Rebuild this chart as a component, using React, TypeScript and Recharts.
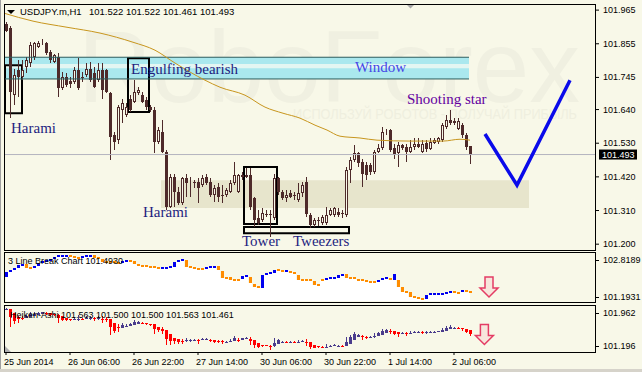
import React from 'react';
import { ComposedChart, Bar, Line, Area, XAxis, YAxis, ReferenceArea, ReferenceLine, ReferenceDot } from 'recharts';

const BG = '#F8F8E8';
const CANDLE = '#4E2A2A';
const FONT = "'Liberation Sans', Arial, sans-serif";
const SERIF = "'Liberation Serif', 'Times New Roman', serif";

// USDJPY H1 OHLC
const opens = [101.921,101.908,101.687,101.769,101.747,101.780,101.791,101.813,101.845,101.858,101.858,101.829,101.796,101.813,101.709,101.747,101.734,101.731,101.769,101.747,101.753,101.774,101.758,101.736,101.769,101.769,101.693,101.557,101.540,101.638,101.622,101.676,101.665,101.693,101.687,101.671,101.649,101.638,101.535,101.567,101.502,101.322,101.420,101.371,101.333,101.415,101.399,101.404,101.404,101.393,101.420,101.404,101.360,101.388,101.360,101.360,101.371,101.399,101.371,101.426,101.426,101.426,101.350,101.284,101.279,101.298,101.298,101.284,101.415,101.371,101.350,101.366,101.360,101.344,101.366,101.404,101.295,101.262,101.279,101.268,101.268,101.295,101.295,101.306,101.303,101.295,101.442,101.475,101.497,101.469,101.458,101.458,101.437,101.502,101.513,101.567,101.573,101.513,101.497,101.524,101.518,101.502,101.518,101.529,101.502,101.531,101.510,101.531,101.535,101.540,101.584,101.606,101.603,101.578,101.589,101.557,101.522];
const highs = [101.927,101.913,101.774,101.802,101.802,101.813,101.862,101.862,101.865,101.869,101.862,101.836,101.823,101.826,101.763,101.758,101.747,101.780,101.807,101.763,101.791,101.796,101.780,101.791,101.791,101.774,101.698,101.567,101.655,101.676,101.660,101.687,101.736,101.714,101.698,101.682,101.655,101.649,101.584,101.606,101.508,101.431,101.431,101.388,101.420,101.431,101.420,101.409,101.415,101.426,101.431,101.415,101.393,101.399,101.393,101.382,101.409,101.469,101.431,101.437,101.448,101.448,101.355,101.311,101.317,101.311,101.311,101.431,101.420,101.377,101.377,101.377,101.371,101.399,101.404,101.420,101.301,101.284,101.290,101.295,101.322,101.317,101.322,101.317,101.311,101.453,101.486,101.524,101.502,101.480,101.469,101.464,101.508,101.529,101.584,101.578,101.578,101.529,101.535,101.529,101.529,101.540,101.546,101.546,101.540,101.540,101.546,101.546,101.551,101.595,101.622,101.640,101.611,101.611,101.595,101.562,101.522];
const lows = [101.894,101.614,101.655,101.682,101.736,101.758,101.780,101.802,101.840,101.851,101.818,101.791,101.791,101.682,101.704,101.714,101.709,101.725,101.704,101.731,101.747,101.731,101.709,101.731,101.676,101.693,101.475,101.508,101.529,101.595,101.616,101.633,101.660,101.687,101.660,101.638,101.633,101.497,101.529,101.497,101.311,101.317,101.322,101.328,101.328,101.355,101.355,101.382,101.333,101.388,101.393,101.355,101.339,101.339,101.333,101.355,101.366,101.393,101.366,101.409,101.415,101.311,101.257,101.262,101.273,101.290,101.224,101.279,101.360,101.344,101.339,101.350,101.344,101.339,101.355,101.290,101.252,101.257,101.259,101.262,101.262,101.292,101.290,101.290,101.284,101.290,101.399,101.469,101.453,101.388,101.409,101.426,101.431,101.497,101.508,101.557,101.502,101.480,101.453,101.508,101.469,101.497,101.508,101.513,101.497,101.502,101.508,101.529,101.529,101.535,101.578,101.589,101.589,101.573,101.546,101.508,101.461];
const closes = [101.897,101.698,101.753,101.747,101.769,101.802,101.851,101.856,101.858,101.860,101.826,101.802,101.818,101.709,101.747,101.720,101.725,101.769,101.709,101.742,101.774,101.736,101.714,101.769,101.704,101.698,101.551,101.535,101.649,101.660,101.649,101.638,101.698,101.704,101.665,101.649,101.638,101.535,101.573,101.502,101.322,101.420,101.371,101.333,101.415,101.399,101.404,101.399,101.382,101.415,101.399,101.360,101.382,101.355,101.357,101.377,101.399,101.426,101.426,101.420,101.420,101.322,101.279,101.268,101.301,101.295,101.295,101.415,101.371,101.350,101.360,101.355,101.358,101.366,101.393,101.298,101.262,101.279,101.275,101.290,101.295,101.311,101.317,101.295,101.298,101.442,101.475,101.497,101.464,101.431,101.426,101.437,101.502,101.513,101.567,101.571,101.508,101.491,101.524,101.513,101.502,101.518,101.529,101.518,101.529,101.510,101.535,101.540,101.546,101.589,101.606,101.595,101.597,101.603,101.557,101.518,101.493];

// moving average (sampled along its path)
const maIdx = [-0.5,6.75,15.25,23.5,31.75,37.25,42.25,49.75,53.5,59.75,64.75,69.25,73.5,77.25,80.25,83.5,88.5,92.75,101,109.25,113.5,116];
const maVal = [101.955,101.929,101.909,101.890,101.860,101.834,101.792,101.736,101.713,101.687,101.648,101.628,101.612,101.589,101.573,101.553,101.547,101.540,101.537,101.537,101.543,101.540];

// forecast V line
const vIdx = [119.75, 127.75, 141];
const vVal = [101.560, 101.393, 101.736];

// 3 Line Break
const lbOpen = [102.023,102.196,102.266,102.335,102.438,102.473,102.335,102.335,102.404,102.508,102.542,102.611,102.646,102.715,102.750,102.750,102.784,102.715,102.681,102.681,102.715,102.750,102.784,102.681,102.646,102.542,102.542,102.542,102.508,102.508,102.577,102.611,102.577,102.473,102.438,102.404,102.404,102.369,102.335,102.300,102.335,102.335,102.369,102.542,102.611,102.611,102.369,102.335,102.300,102.300,102.300,102.335,102.369,102.404,102.231,101.989,102.023,101.920,101.920,101.954,102.058,102.023,101.781,101.678,101.643,102.093,102.162,102.162,102.266,102.231,102.196,102.196,102.162,102.093,101.920,101.920,101.920,101.885,101.747,101.920,101.920,101.989,101.989,101.989,102.093,102.127,101.989,101.989,101.920,101.920,101.885,101.851,101.851,101.851,101.920,101.954,101.954,101.920,101.920,101.678,101.505,101.505,101.332,101.298,101.263,101.263,101.401,101.436,101.436,101.436,101.436,101.505,101.505,101.470,101.505,101.539,101.539];
const lbClose = [102.196,102.266,102.335,102.438,102.473,102.335,102.335,102.404,102.508,102.542,102.611,102.646,102.715,102.750,102.750,102.784,102.715,102.681,102.681,102.715,102.750,102.784,102.681,102.646,102.542,102.542,102.542,102.508,102.508,102.577,102.611,102.577,102.473,102.438,102.404,102.404,102.369,102.335,102.300,102.335,102.335,102.369,102.542,102.611,102.646,102.369,102.335,102.300,102.300,102.300,102.335,102.369,102.404,102.266,101.989,101.989,101.920,101.920,101.920,102.058,102.058,101.816,101.678,101.643,102.093,102.162,102.162,102.266,102.231,102.231,102.266,102.162,102.162,101.920,101.920,101.920,101.885,101.747,101.747,101.920,101.989,101.989,101.989,102.093,102.093,101.989,101.989,101.989,101.920,101.920,101.885,101.851,101.851,101.920,101.954,101.989,101.920,102.127,101.678,101.505,101.505,101.332,101.332,101.263,101.263,101.401,101.436,101.436,101.436,101.436,101.505,101.505,101.470,101.470,101.574,101.505,101.493];

const timeTicks = [0, 16, 32, 48, 64, 80, 96, 112];
const timeLabels = ['25 Jun 2014', '26 Jun 06:00', '26 Jun 22:00', '27 Jun 14:00', '30 Jun 06:00', '30 Jun 22:00', '1 Jul 14:00', '2 Jul 06:00'];
const priceTicks = [101.2, 101.31, 101.42, 101.53, 101.64, 101.745, 101.855, 101.965];
const lbTicks = [101.1931, 102.8189];
const haTicks = [101.196, 101.962];
const lastPrice = 101.493;

const X_DOMAIN: [number, number] = [-0.5, 147.25];

const bars = opens.map((o, i) => ({ i, o, h: highs[i], l: lows[i], c: closes[i], range: [lows[i], highs[i]] }));
const maData = maIdx.map((i, k) => ({ i, v: maVal[k] }));
const vData = vIdx.map((i, k) => ({ i, v: vVal[k] }));

const haRows: any[] = [];
opens.forEach((o, i) => {
  const c = (o + highs[i] + lows[i] + closes[i]) / 4;
  const op = i === 0 ? (o + closes[i]) / 2 : (haRows[i - 1].o + haRows[i - 1].c) / 2;
  const h = Math.max(highs[i], op, c);
  const l = Math.min(lows[i], op, c);
  haRows.push({ i, o: op, c, h, l, range: [l, h] });
});

let prevUp = true;
const lbRows = lbOpen.map((o, i) => {
  const c = lbClose[i];
  const up = c > o ? true : c < o ? false : prevUp;
  prevUp = up;
  return { i, o, c, up, lo: Math.min(o, c), range: [Math.min(o, c), Math.max(o, c)] };
});

const CandleShape = (p: any) => {
  const { x, y, width, height, payload } = p;
  if (x == null || payload == null) return null;
  const cx = Math.round(x + width / 2);
  const top = Math.min(y, y + height);
  const H = Math.abs(height);
  const span = payload.h - payload.l;
  const k = span > 0 ? H / span : 0;
  const yO = top + (payload.h - payload.o) * k;
  const yC = top + (payload.h - payload.c) * k;
  const bTop = Math.round(Math.min(yO, yC));
  const bBot = Math.round(Math.max(yO, yC));
  const bull = payload.c > payload.o;
  return (
    <g>
      <line x1={cx + 0.5} x2={cx + 0.5} y1={Math.round(top)} y2={Math.round(top + H)} stroke={CANDLE} strokeWidth={1} />
      {bull ? (
        <rect x={cx - 0.5} y={bTop + 0.5} width={2} height={Math.max(bBot - bTop - 1, 0)} fill={BG} stroke={CANDLE} strokeWidth={1} />
      ) : (
        <rect x={cx - 1} y={bTop} width={3} height={Math.max(bBot - bTop, 1)} fill={CANDLE} />
      )}
    </g>
  );
};

const HAShape = (p: any) => {
  const { x, y, width, height, payload } = p;
  if (x == null || payload == null) return null;
  const cx = Math.round(x + width / 2);
  const top = Math.min(y, y + height);
  const H = Math.abs(height);
  const span = payload.h - payload.l;
  const k = span > 0 ? H / span : 0;
  const yO = top + (payload.h - payload.o) * k;
  const yC = top + (payload.h - payload.c) * k;
  const bTop = Math.round(Math.min(yO, yC));
  const bBot = Math.round(Math.max(yO, yC));
  const col = payload.c > payload.o ? '#4A3C8C' : '#FF0000';
  return (
    <g>
      <line x1={cx + 0.5} x2={cx + 0.5} y1={Math.round(top)} y2={Math.round(top + H)} stroke={col} strokeWidth={1} />
      <rect x={cx - 1} y={bTop} width={3} height={Math.max(bBot - bTop, 1)} fill={col} />
    </g>
  );
};

const LBShape = (p: any) => {
  const { x, y, width, height, payload } = p;
  if (x == null || payload == null) return null;
  const cx = Math.round(x + width / 2);
  const top = Math.min(y, y + height);
  let H = Math.abs(height);
  let t = top;
  if (H < 2) { t = top + H / 2 - 1; H = 2; }
  return <rect x={cx - 1} y={Math.round(t)} width={3} height={Math.round(H)} fill={payload.up ? '#0000F0' : '#FF8C00'} />;
};

const DownArrow = (p: any) => {
  const { cx, cy } = p;
  if (cx == null) return null;
  const d = `M${cx - 4},${cy - 10} L${cx + 4},${cy - 10} L${cx + 4},${cy + 1} L${cx + 9},${cy + 1} L${cx},${cy + 10} L${cx - 9},${cy + 1} L${cx - 4},${cy + 1} Z`;
  return <path d={d} fill="#F7E6DC" stroke="#E43C64" strokeWidth={1.5} />;
};

const PriceTick = (p: any) => (
  <text x={p.x} y={p.y} dy={3} fontSize={9} fontFamily={FONT} fill="#000">{Number(p.payload.value).toFixed(3)}</text>
);

const makeEdgeTick = (digits: number, upOff: number, downOff: number) => (p: any) => {
  const v = Number(p.payload.value);
  const isTop = v === Math.max(...(digits === 4 ? lbTicks : haTicks));
  const yy = p.y + (isTop ? upOff : downOff);
  return (
    <g>
      <line x1={p.x - 8} x2={p.x - 4} y1={yy + 0.5} y2={yy + 0.5} stroke="#000" />
      <text x={p.x} y={yy} dy={3} fontSize={9} fontFamily={FONT} fill="#000">{v.toFixed(digits)}</text>
    </g>
  );
};
const LBTick = makeEdgeTick(4, 6, -4);
const HATick = makeEdgeTick(3, 7, -6);

const TimeTick = (p: any) => {
  const idx = timeTicks.indexOf(Number(p.payload.value));
  return <text x={p.x - 2} y={p.y} dy={8} fontSize={9} fontFamily={FONT} fill="#000">{timeLabels[idx]}</text>;
};

const PriceBox = (p: any) => {
  const vb = p.viewBox || {};
  const xr = (vb.x || 0) + (vb.width || 0);
  const yy = vb.y || 0;
  return (
    <g>
      <rect x={xr + 4} y={yy - 5} width={38} height={10} fill="#000" />
      <text x={xr + 7} y={yy + 3.5} fontSize={9} fontFamily={FONT} fill="#fff">{lastPrice.toFixed(3)}</text>
    </g>
  );
};

const abs = (left: number, top: number, w: number, h: number): React.CSSProperties => ({ position: 'absolute', left, top, width: w, height: h });
const frame = (left: number, top: number, w: number, h: number): React.CSSProperties => ({ ...abs(left, top, w, h), border: '1px solid #000', boxSizing: 'border-box', pointerEvents: 'none' });

export default function App() {
  const ann = { fontFamily: SERIF, fontSize: 15 } as const;
  return (
    <div style={{ position: 'absolute', left: 0, top: 0, width: 642, height: 372, background: BG, overflow: 'hidden' }}>
      {/* watermark */}
      <svg style={abs(0, 0, 642, 372)} width={642} height={372}>
        <text x={78} y={102} fontSize={102} fontFamily={FONT} fill="#F0F0E1" textLength={502} lengthAdjust="spacingAndGlyphs">RoboForex</text>
        <text x={293} y={119} fontSize={15} fontFamily={FONT} fill="#EFEFDF" textLength={284} lengthAdjust="spacingAndGlyphs">ИСПОЛЬЗУЙ РОБОТОВ - ПОЛУЧАЙ ПРИБЫЛЬ</text>
      </svg>

      {/* main price panel */}
      <div style={abs(0, 0, 642, 251)}>
        <ComposedChart width={642} height={251} data={bars} margin={{ top: 4, right: 0, bottom: 1, left: 4 }}>
          <XAxis dataKey="i" type="number" domain={X_DOMAIN} hide allowDataOverflow />
          <YAxis orientation="right" width={47} type="number" domain={[101.181, 101.985]} ticks={priceTicks} tick={<PriceTick />} tickSize={4} tickMargin={4} tickLine={{ stroke: '#000' }} axisLine={false} allowDataOverflow interval={0} />
          <ReferenceArea x1={38.75} x2={130.75} y1={101.318} y2={101.409} fill="#E7E5CC" fillOpacity={1} stroke="none" />
          <ReferenceArea x1={-0.5} x2={115.75} y1={101.740} y2={101.811} fill="#E3F6F2" fillOpacity={1} stroke="none" />
          <ReferenceArea x1={-0.5} x2={115.75} y1={101.789} y2={101.811} fill="#AAE8EE" fillOpacity={1} stroke="none" />
          <ReferenceArea x1={-0.5} x2={115.75} y1={101.740} y2={101.775} fill="#AAE8EE" fillOpacity={1} stroke="none" />
          <ReferenceLine segment={[{ x: -0.5, y: 101.811 }, { x: 115.75, y: 101.811 }]} stroke="#2E5C5C" strokeWidth={1} />
          <ReferenceLine segment={[{ x: -0.5, y: 101.740 }, { x: 115.75, y: 101.740 }]} stroke="#2E5C5C" strokeWidth={1} />
          <ReferenceLine y={lastPrice} stroke="#B4B4BE" strokeWidth={1} label={PriceBox} />
          <Bar dataKey="range" barSize={3} shape={CandleShape} isAnimationActive={false} />
          <Line data={maData} dataKey="v" type="monotone" stroke="#C8961E" strokeWidth={1} dot={false} isAnimationActive={false} />
          <ReferenceArea x1={-0.25} x2={4} y1={101.628} y2={101.785} fill="none" stroke="#000" strokeWidth={2} />
          <ReferenceArea x1={30.5} x2={35.75} y1={101.632} y2={101.808} fill="none" stroke="#000" strokeWidth={2} />
          <ReferenceArea x1={59.5} x2={67.75} y1={101.266} y2={101.452} fill="none" stroke="#000" strokeWidth={2} />
          <ReferenceArea x1={59.5} x2={85.75} y1={101.236} y2={101.256} fill="none" stroke="#000" strokeWidth={2} />
          <Line data={vData} dataKey="v" type="linear" stroke="#0A0AEA" strokeWidth={3.5} dot={false} isAnimationActive={false} />
        </ComposedChart>
      </div>

      {/* 3 line break panel */}
      <div style={abs(0, 252, 642, 49)}>
        <ComposedChart width={642} height={49} data={lbRows} margin={{ top: 2, right: 0, bottom: 0, left: 4 }}>
          <XAxis dataKey="i" type="number" domain={X_DOMAIN} hide allowDataOverflow />
          <YAxis orientation="right" width={47} type="number" domain={[101.1931, 102.8189]} ticks={lbTicks} tick={<LBTick />} tickSize={4} tickMargin={4} tickLine={false} axisLine={false} allowDataOverflow interval={0} />
          <Area dataKey="lo" type="step" baseValue={101.1931} fill="#FFFFFF" fillOpacity={1} stroke="none" isAnimationActive={false} />
          <Bar dataKey="range" barSize={3} shape={LBShape} isAnimationActive={false} />
          <ReferenceDot x={120.75} y={101.677} r={10} shape={DownArrow} ifOverflow="visible" />
        </ComposedChart>
      </div>

      {/* Heiken Ashi panel */}
      <div style={abs(0, 305, 642, 67)}>
        <ComposedChart width={642} height={67} data={haRows} margin={{ top: 1, right: 0, bottom: 0, left: 4 }}>
          <XAxis dataKey="i" type="number" domain={X_DOMAIN} ticks={timeTicks} interval={0} tick={<TimeTick />} tickSize={3} tickMargin={2} tickLine={{ stroke: '#000' }} axisLine={false} height={20} allowDataOverflow />
          <YAxis orientation="right" width={47} type="number" domain={[101.196, 101.962]} ticks={haTicks} tick={<HATick />} tickSize={4} tickMargin={4} tickLine={false} axisLine={false} allowDataOverflow interval={0} />
          <Bar dataKey="range" barSize={3} shape={HAShape} isAnimationActive={false} />
          <ReferenceDot x={119.6} y={101.487} r={10} shape={DownArrow} ifOverflow="visible" />
        </ComposedChart>
      </div>

      {/* panel frames */}
      <div style={frame(4, 4, 592, 247)} />
      <div style={frame(4, 252, 592, 51)} />
      <div style={frame(4, 305, 592, 48)} />
      <div style={{ ...abs(0, 0, 1, 372), background: '#A0A0A0' }} />
      <div style={{ ...abs(0, 369, 642, 3), background: '#D6D3CA' }} />

      {/* annotations & labels */}
      <svg style={{ ...abs(0, 0, 642, 372), pointerEvents: 'none' }} width={642} height={372}>
        <polygon points="7,10 15,10 11,14" fill="#000" />
        <text x={20} y={15} fontSize={9.5} fontFamily={FONT} fill="#000">USDJPY.m,H1</text>
        <text x={89} y={15} fontSize={9.5} fontFamily={FONT} fill="#000">101.522 101.522 101.461 101.493</text>
        <polygon points="407,5 414,5 410.5,8.5" fill="#A8A8A8" />
        <text x={11} y={133} {...ann} fill="#1E1E80">Harami</text>
        <text x={143} y={217} {...ann} fill="#1E1E80">Harami</text>
        <text x={131} y={74} {...ann} fill="#1E1E80">Engulfing bearish</text>
        <text x={355} y={72} {...ann} fill="#4646E6">Window</text>
        <text x={407} y={104} {...ann} fill="#6400A0">Shooting star</text>
        <text x={242} y={246} {...ann} fill="#1E1E80">Tower</text>
        <text x={293} y={246} {...ann} fill="#1E1E80">Tweezers</text>
        <text x={8} y={264} fontSize={9} fontFamily={FONT} fill="#000">3 Line Break Chart 101.4930</text>
        <text x={10} y={318} fontSize={9} fontFamily={FONT} fill="#000">Heiken-Ashi 101.563 101.500 101.500 101.563 101.461</text>
        <polygon points="5,346 5,352 11,352" fill="#B0B0B0" />
      </svg>
    </div>
  );
}
